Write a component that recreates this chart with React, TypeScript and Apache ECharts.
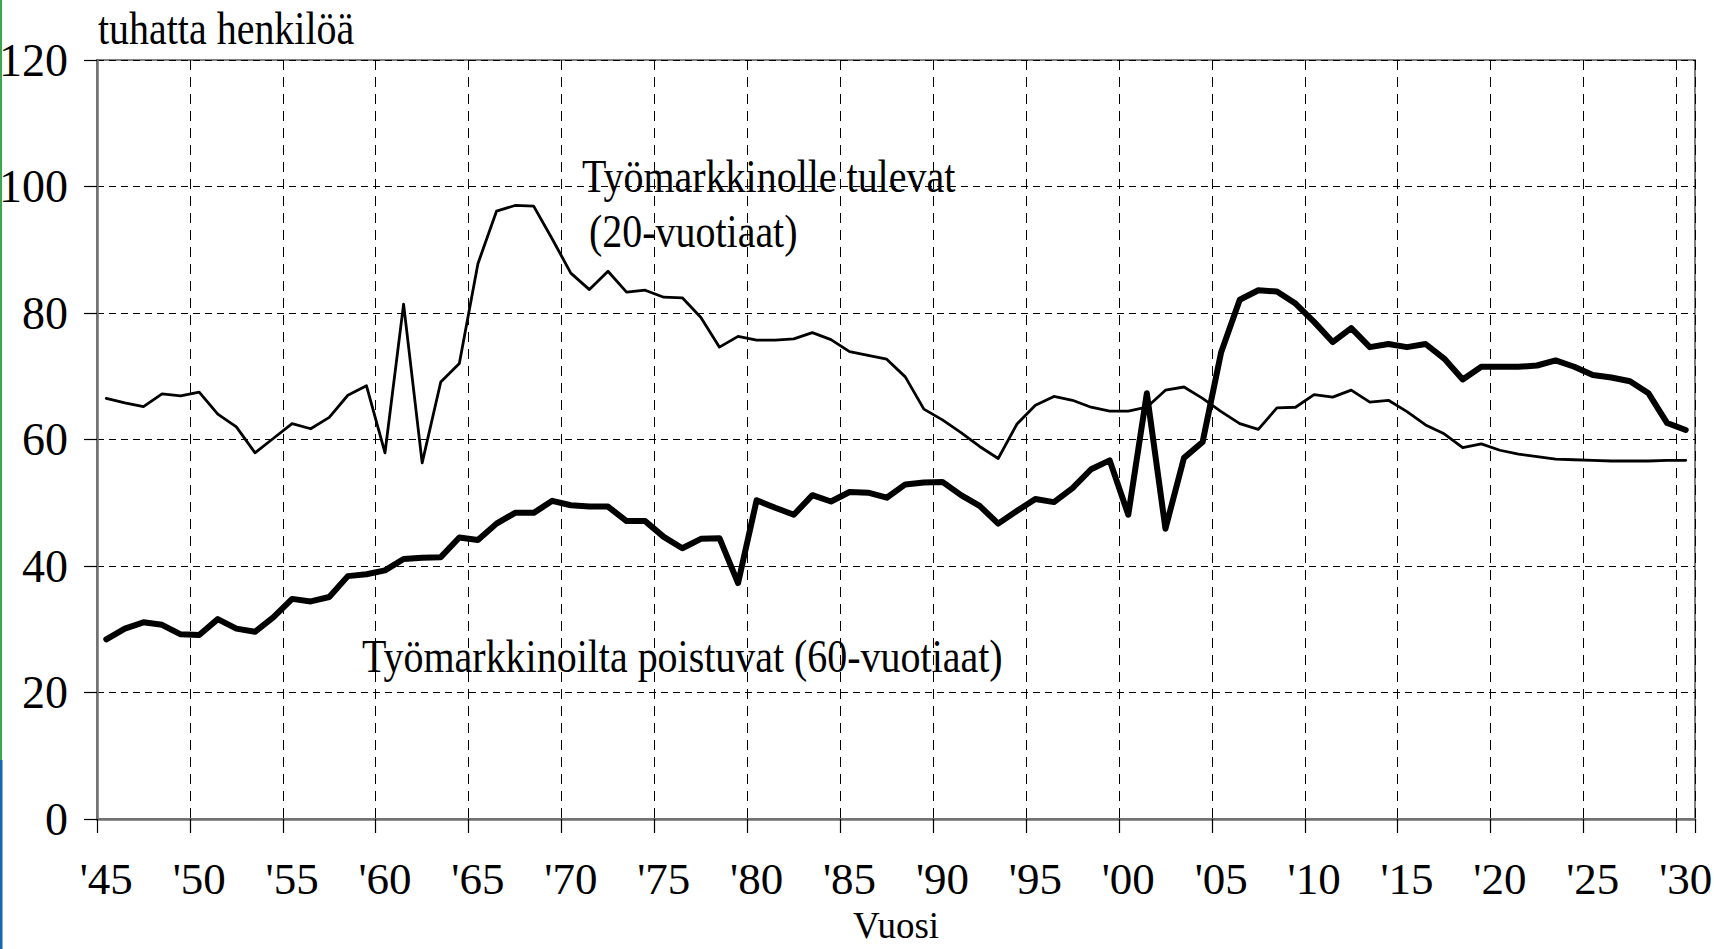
import React, { useEffect, useRef } from "react";
import * as echarts from "echarts";

const years: number[] = [
  1945, 1946, 1947, 1948, 1949, 1950, 1951, 1952, 1953, 1954,
  1955, 1956, 1957, 1958, 1959, 1960, 1961, 1962, 1963, 1964,
  1965, 1966, 1967, 1968, 1969, 1970, 1971, 1972, 1973, 1974,
  1975, 1976, 1977, 1978, 1979, 1980, 1981, 1982, 1983, 1984,
  1985, 1986, 1987, 1988, 1989, 1990, 1991, 1992, 1993, 1994,
  1995, 1996, 1997, 1998, 1999, 2000, 2001, 2002, 2003, 2004,
  2005, 2006, 2007, 2008, 2009, 2010, 2011, 2012, 2013, 2014,
  2015, 2016, 2017, 2018, 2019, 2020, 2021, 2022, 2023, 2024,
  2025, 2026, 2027, 2028, 2029, 2030,
];

// Työmarkkinolle tulevat (20-vuotiaat), thousands
const tulevat: number[] = [
  66.5, 65.8, 65.2, 67.2, 66.9, 67.5, 64.0, 62.0, 57.9, 60.2,
  62.5, 61.7, 63.5, 67.0, 68.5, 57.9, 81.4, 56.3, 69.1, 72.0,
  87.8, 96.1, 97.0, 96.9, 91.7, 86.3, 83.7, 86.6, 83.3, 83.6,
  82.5, 82.4, 79.3, 74.6, 76.3, 75.7, 75.7, 75.9, 76.9, 75.8,
  73.9, 73.3, 72.7, 69.9, 64.8, 63.1, 61.1, 58.9, 57.0, 62.4,
  65.4, 66.8, 66.2, 65.1, 64.5, 64.5, 65.1, 67.8, 68.3, 66.5,
  64.4, 62.5, 61.6, 65.0, 65.1, 67.1, 66.7, 67.8, 65.9, 66.2,
  64.4, 62.3, 60.9, 58.7, 59.3, 58.3, 57.7, 57.3, 56.9, 56.8,
  56.7, 56.6, 56.6, 56.6, 56.7, 56.7,
];

// Työmarkkinoilta poistuvat (60-vuotiaat), thousands
const poistuvat: number[] = [
  28.4, 30.1, 31.1, 30.7, 29.2, 29.1, 31.6, 30.1, 29.6, 31.9,
  34.8, 34.4, 35.1, 38.4, 38.7, 39.3, 41.1, 41.3, 41.4, 44.5,
  44.1, 46.7, 48.4, 48.4, 50.3, 49.6, 49.4, 49.4, 47.1, 47.1,
  44.6, 42.8, 44.3, 44.4, 37.3, 50.4, 49.2, 48.1, 51.2, 50.2,
  51.7, 51.6, 50.8, 52.9, 53.2, 53.3, 51.2, 49.5, 46.7, 48.7,
  50.6, 50.1, 52.3, 55.3, 56.7, 48.1, 67.3, 45.9, 57.1, 59.6,
  73.8, 82.1, 83.6, 83.4, 81.5, 78.6, 75.4, 77.6, 74.6, 75.1,
  74.6, 75.1, 72.8, 69.5, 71.5, 71.5, 71.5, 71.7, 72.5, 71.5,
  70.2, 69.8, 69.2, 67.3, 62.6, 61.5,
];

const yTicks = { min: 0, max: 120, interval: 20 };
const yUnitLabel = "tuhatta henkilöä";
const xAxisTitle = "Vuosi";
const labelTulevat1 = "Työmarkkinolle tulevat";
const labelTulevat2 = "(20-vuotiaat)";
const labelPoistuvat = "Työmarkkinoilta poistuvat (60-vuotiaat)";

const FONT = "'Liberation Serif', 'Times New Roman', serif";

export default function App() {
  const ref = useRef<HTMLDivElement>(null);

  useEffect(() => {
    if (!ref.current) return;
    const chart = echarts.init(ref.current, undefined, { renderer: "svg" });

    const annot = (text: string, x: number, y: number) => ({
      type: "text",
      x,
      y,
      scaleX: 0.85,
      z: 100,
      style: {
        text,
        fill: "#000",
        font: `47px ${FONT}`,
        textAlign: "left",
        align: "left",
        textVerticalAlign: "middle",
        verticalAlign: "middle",
      },
    });

    chart.setOption({
      animation: false,
      backgroundColor: "#ffffff",
      textStyle: { fontFamily: FONT, color: "#000" },
      grid: {
        left: 97,
        right: 19,
        top: 60,
        bottom: 130,
        show: true,
        borderColor: "#808080",
        borderWidth: 2,
        containLabel: false,
        outerBoundsMode: "none",
      },
      xAxis: {
        type: "category",
        data: years.map(String),
        boundaryGap: true,
        name: xAxisTitle,
        nameLocation: "middle",
        nameGap: 88,
        nameMoveOverlap: false,
        nameTextStyle: { fontFamily: FONT, fontSize: 37, lineHeight: 37, color: "#000" },
        axisLine: { show: true, lineStyle: { color: "#707070", width: 2.5 } },
        axisTick: {
          show: true,
          interval: 4,
          length: 14,
          alignWithLabel: false,
          lineStyle: { color: "#000", width: 1.2 },
        },
        axisLabel: {
          interval: 4,
          margin: 37,
          fontFamily: FONT,
          fontSize: 45,
          lineHeight: 45,
          color: "#000",
          formatter: (v: string) => "'" + v.slice(2),
        },
        splitLine: {
          show: true,
          interval: 4,
          lineStyle: { color: "#000", width: 1, type: [10, 7] },
        },
      },
      yAxis: {
        type: "value",
        min: yTicks.min,
        max: yTicks.max,
        interval: yTicks.interval,
        axisLine: { show: true, lineStyle: { color: "#707070", width: 2.5 } },
        axisTick: { show: true, length: 13, lineStyle: { color: "#000", width: 1.2 } },
        axisLabel: {
          margin: 29,
          fontFamily: FONT,
          fontSize: 46,
          color: "#000",
        },
        splitLine: {
          show: true,
          lineStyle: { color: "#000", width: 1, type: [7, 5] },
        },
      },
      series: [
        {
          name: "Työmarkkinolle tulevat (20-vuotiaat)",
          type: "line",
          data: tulevat,
          showSymbol: false,
          symbol: "none",
          lineStyle: { color: "#000", width: 2.8, join: "round", cap: "round" },
          z: 3,
        },
        {
          name: "Työmarkkinoilta poistuvat (60-vuotiaat)",
          type: "line",
          data: poistuvat,
          showSymbol: false,
          symbol: "none",
          lineStyle: { color: "#000", width: 6, join: "round", cap: "round" },
          z: 4,
        },
      ],
      graphic: [
        {
          type: "rect",
          shape: { x: 0, y: 0, width: 2, height: 760 },
          style: { fill: "#3aa84f" },
          silent: true,
        },
        {
          type: "rect",
          shape: { x: 0, y: 760, width: 2.5, height: 189 },
          style: { fill: "#1565b0" },
          silent: true,
        },
        annot(yUnitLabel, 98, 28),
        annot(labelTulevat1, 582, 176),
        annot(labelTulevat2, 589, 231),
        annot(labelPoistuvat, 362, 656),
      ],
    });

    return () => chart.dispose();
  }, []);

  return (
    <div
      ref={ref}
      style={{
        position: "fixed",
        left: 0,
        top: 0,
        width: 1714,
        height: 949,
        background: "#fff",
      }}
    />
  );
}
